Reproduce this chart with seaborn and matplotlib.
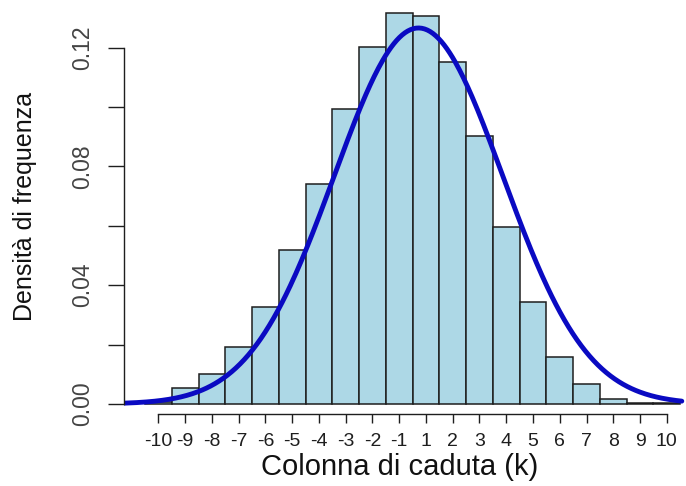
import numpy as np
import pandas as pd
import matplotlib
matplotlib.use("Agg")
import matplotlib.pyplot as plt
import seaborn as sns

# Landing column labels (no column 0) and the observed frequency density per column
columns = ["-10", "-9", "-8", "-7", "-6", "-5", "-4", "-3", "-2", "-1",
           "1", "2", "3", "4", "5", "6", "7", "8", "9", "10"]
density = [0.0008, 0.0055, 0.0100, 0.0191, 0.0326, 0.0519, 0.0740, 0.0994,
           0.1203, 0.1316, 0.1307, 0.1153, 0.0903, 0.0596, 0.0345, 0.0158,
           0.0067, 0.0017, 0.0005, 0.0002]

# Normal approximation overlaid on the histogram (in column-index units)
normal_mean = 9.72
normal_sd = 3.15

y_ticks = [0.00, 0.02, 0.04, 0.06, 0.08, 0.10, 0.12]
y_ticklabels = ["0.00", "", "0.04", "", "0.08", "", "0.12"]

sns.set_style("white")
narrow = ["Liberation Sans Narrow", "Liberation Sans", "DejaVu Sans"]
plt.rcParams["font.family"] = ["Liberation Sans", "DejaVu Sans"]

df = pd.DataFrame({"pos": np.arange(len(columns)), "density": density})

fig = plt.figure(figsize=(6.86, 4.86), dpi=100, facecolor="white")
ax = fig.add_axes([124 / 686, 71.7 / 486, 562 / 686, 414.3 / 486])

sns.histplot(data=df, x="pos", weights="density", stat="count",
             discrete=True, color="#add8e6", edgecolor="#1e1e1e",
             linewidth=1.1, alpha=1.0, ax=ax)

grid = np.linspace(-1.285, 19.56, 400)
pdf = np.exp(-0.5 * ((grid - normal_mean) / normal_sd) ** 2) / (normal_sd * np.sqrt(2 * np.pi))
sns.lineplot(x=grid, y=pdf, color="#0a0ac2", linewidth=3.5, ax=ax,
             solid_capstyle="round")

ax.set_xlim(-1.285, 19.717)
ax.set_ylim(-0.00347, 0.13607)

for side in ("top", "right"):
    ax.spines[side].set_visible(False)
ax.spines["left"].set_bounds(0, 0.12)
ax.spines["bottom"].set_bounds(0, len(columns) - 1)
for side in ("left", "bottom"):
    ax.spines[side].set_color("#1e1e1e")
    ax.spines[side].set_linewidth(1.0)

ax.set_xticks(np.arange(len(columns)))
ax.set_xticklabels(columns, family=narrow, fontsize=14, color="#1e1e1e")
ax.set_yticks(y_ticks)
ax.set_yticklabels(y_ticklabels, family=narrow, fontsize=16.5, color="#444444",
                   rotation=90, va="center")
ax.tick_params(axis="x", direction="out", length=6.5, width=1.0,
               color="#1e1e1e", pad=7, bottom=True)
ax.tick_params(axis="y", direction="out", length=11.3, width=1.0,
               color="#1e1e1e", pad=10, left=True)

ax.set_xlabel("")
ax.set_ylabel("")
fig.text(400 / 686, 1 - 467 / 486, "Colonna di caduta (k)", ha="center",
         va="center", fontsize=21, color="#111111")
fig.text(25 / 686, 1 - 206 / 486, "Densità di frequenza", ha="center",
         va="center", rotation=90, fontsize=18, color="#111111")

fig.savefig("out.png", dpi=100, facecolor="white")
